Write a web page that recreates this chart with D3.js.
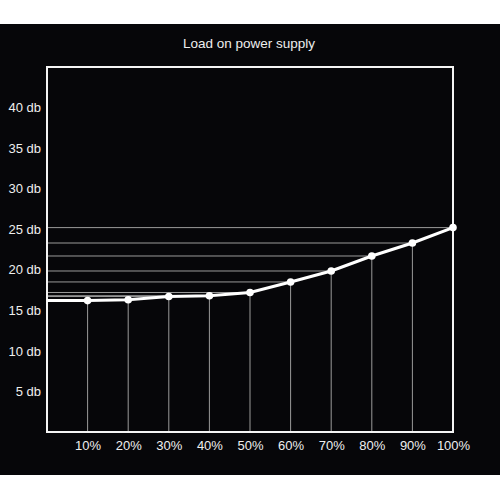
<!DOCTYPE html>
<html><head><meta charset="utf-8">
<script src="https://cdn.jsdelivr.net/npm/d3@7"></script>
<style>body{margin:0;background:#fff}svg{display:block}</style>
</head><body>
<script>
const loads = [0, 10, 20, 30, 40, 50, 60, 70, 80, 90, 100];
const noise = [16.2, 16.2, 16.3, 16.7, 16.8, 17.2, 18.5, 19.85, 21.7, 23.3, 25.2];
const xTicks = [10, 20, 30, 40, 50, 60, 70, 80, 90, 100];
const yTicks = [5, 10, 15, 20, 25, 30, 35, 40];
const title = "Load on power supply";

const W = 500, H = 500;
const svg = d3.select("body").append("svg").attr("width", W).attr("height", H);
svg.append("rect").attr("x", 0).attr("y", 24).attr("width", W).attr("height", 451).attr("fill", "#060609");

const x = d3.scaleLinear().domain([0, 100]).range([47, 453]);
const y = d3.scaleLinear().domain([0, 45]).range([432, 67]);
const font = "'Liberation Sans', Arial, sans-serif";

svg.append("text").attr("x", 249).attr("y", 48).attr("text-anchor", "middle")
  .attr("fill", "#eee").attr("font-family", font).attr("font-size", 13.5).text(title);

const data = loads.map((l, i) => ({l, v: noise[i]}));
const pts = data.filter(d => d.l > 0);

// guide lines
svg.append("g").selectAll("line.h").data(pts).join("line")
  .attr("x1", x(0)).attr("x2", d => x(d.l)).attr("y1", d => y(d.v)).attr("y2", d => y(d.v))
  .attr("stroke", "#9a9a9a").attr("stroke-width", 1);
svg.append("g").selectAll("line.v").data(pts).join("line")
  .attr("x1", d => x(d.l)).attr("x2", d => x(d.l)).attr("y1", y(0)).attr("y2", d => y(d.v))
  .attr("stroke", "#9a9a9a").attr("stroke-width", 1);

// frame
svg.append("rect").attr("x", x(0)).attr("y", y(45)).attr("width", x(100) - x(0)).attr("height", y(0) - y(45))
  .attr("fill", "none").attr("stroke", "#f4f4f4").attr("stroke-width", 2);

// line
svg.append("path").datum(data)
  .attr("d", d3.line().x(d => x(d.l)).y(d => y(d.v)))
  .attr("fill", "none").attr("stroke", "#fff").attr("stroke-width", 3);
svg.append("g").selectAll("circle").data(pts).join("circle")
  .attr("cx", d => x(d.l)).attr("cy", d => y(d.v)).attr("r", 3.8).attr("fill", "#fff");

// axes
const xAxis = svg.append("g").attr("transform", `translate(0,${y(0)})`)
  .call(d3.axisBottom(x).tickValues(xTicks).tickSize(0).tickPadding(9).tickFormat(d => d + "%"));
const yAxis = svg.append("g").attr("transform", `translate(${x(0) - 6},0)`)
  .call(d3.axisLeft(y).tickValues(yTicks).tickSize(0).tickPadding(0).tickFormat(d => d + " db"));
[xAxis, yAxis].forEach(a => {
  a.select(".domain").remove();
  a.selectAll("text").attr("fill", "#eee").attr("font-family", font).attr("font-size", 13);
});
</script>
</body></html>
